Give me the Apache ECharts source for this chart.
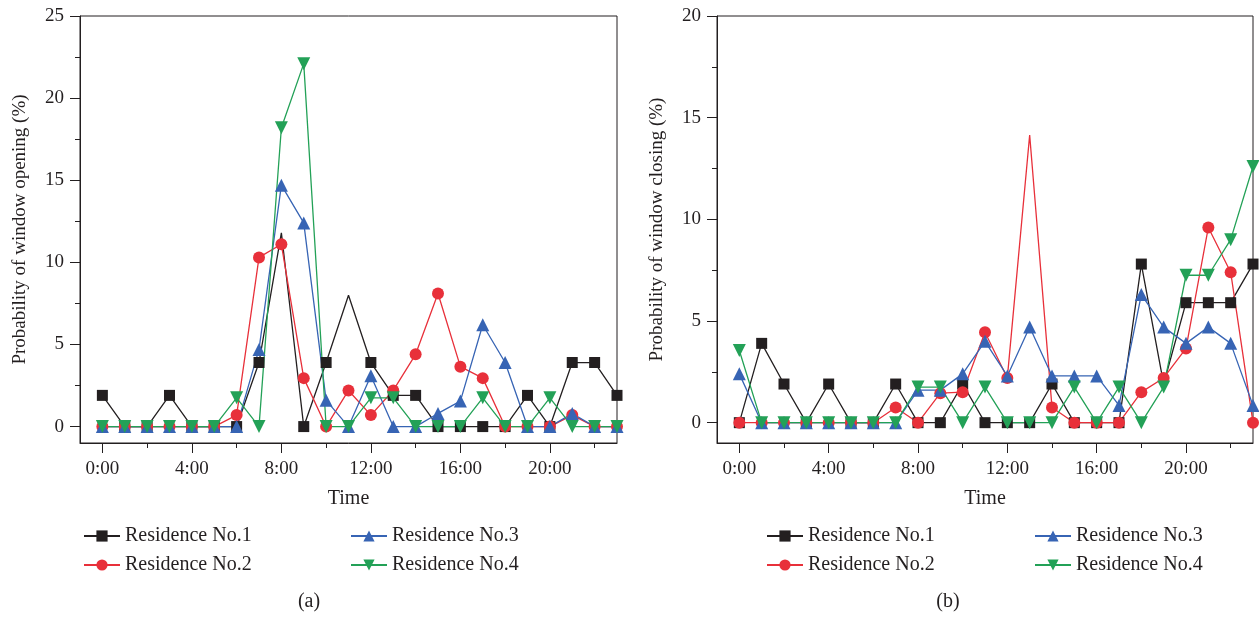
<!DOCTYPE html>
<html>
<head>
<meta charset="utf-8">
<script src="https://cdn.jsdelivr.net/npm/echarts@6/dist/echarts.min.js"></script>
<style>
  html, body { margin: 0; padding: 0; background: #fff; }
  #chart { width: 1259px; height: 618px; }
</style>
</head>
<body>
<div id="chart"></div>
<script>
// Hour of day for every sample
const hours = [0,1,2,3,4,5,6,7,8,9,10,11,12,13,14,15,16,17,18,19,20,21,22,23];
const hourLabels = [0,4,8,12,16,20];
const hourMinor = [2,6,10,14,18,22];

// (a) probability of window opening (%)
const openR1 = [1.9,0,0,1.9,0,0,0,3.9,11.8,0,3.9,8.0,3.9,1.9,1.9,0,0,0,0,1.9,0,3.9,3.9,1.9];
const openR2 = [0,0,0,0,0,0,0.7,10.3,11.1,2.95,0,2.2,0.7,2.2,4.4,8.1,3.65,2.95,0,0,0,0.7,0,0];
const openR3 = [0,0,0,0,0,0,0,4.7,14.7,12.4,1.6,0,3.1,0,0,0.8,1.55,6.2,3.9,0,0,0.8,0,0];
const openR4 = [0,0,0,0,0,0,1.75,0,18.2,22.1,0,0,1.75,1.75,0,0,0,1.75,0,0,1.75,0,0,0];
const openTicks = [0,5,10,15,20,25];
const openMinor = [2.5,7.5,12.5,17.5,22.5];
// hours whose marker is left off (line vertex only)
const openBare = [[8, 11], [], [], []];

// (b) probability of window closing (%)
const closeR1 = [0,3.9,1.9,0,1.9,0,0,1.9,0,0,1.9,0,0,0,1.9,0,0,0,7.8,1.9,5.9,5.9,5.9,7.8];
const closeR2 = [0,0,0,0,0,0,0,0.75,0,1.45,1.5,4.45,2.2,14.15,0.75,0,0,0,1.5,2.2,3.65,9.6,7.4,0];
const closeR3 = [2.4,0,0,0,0,0,0,0,1.6,1.6,2.4,4.0,2.3,4.7,2.3,2.3,2.3,0.85,6.3,4.7,3.9,4.7,3.9,0.85];
const closeR4 = [3.55,0,0,0,0,0,0,0,1.75,1.75,0,1.75,0,0,0,1.75,0,1.75,0,1.75,7.25,7.25,9.0,12.6];
const closeTicks = [0,5,10,15,20];
const closeMinor = [2.5,7.5,12.5,17.5];
const closeBare = [[19], [13], [], []];

const names = ['Residence No.1','Residence No.2','Residence No.3','Residence No.4'];
const colors = ['#231f20','#e8303a','#3764b4','#23a157'];
const symbols = ['rect','circle','triangle','path://M0,0 L10,0 L5,9 Z'];
const symbolSizes = [11,12,13,13];

const FONT = 'Liberation Serif';
const INK = '#231f20';

function points(vals, bare) {
  return hours.map((h, i) => bare.includes(h)
    ? { value: [h, vals[i]], symbol: 'none' }
    : [h, vals[i]]);
}

function mainX(gridIndex) {
  return {
    gridIndex, type: 'value', min: -1, max: 23, position: 'bottom',
    name: 'Time', nameLocation: 'middle', nameGap: 46,
    nameTextStyle: { fontFamily: FONT, fontSize: 20, color: INK },
    axisLine: { show: true, onZero: false, lineStyle: { color: INK, width: 1 } },
    axisTick: { show: true, inside: false, length: 10, customValues: hourLabels, lineStyle: { color: INK } },
    axisLabel: { customValues: hourLabels, margin: 17, formatter: v => v + ':00',
                 fontFamily: FONT, fontSize: 19, color: INK },
    splitLine: { show: false }
  };
}
function minorX(gridIndex) {
  return {
    gridIndex, type: 'value', min: -1, max: 23, position: 'bottom',
    axisLine: { show: false, onZero: false },
    axisTick: { show: true, length: 5, customValues: hourMinor, lineStyle: { color: INK } },
    axisLabel: { show: false }, splitLine: { show: false }
  };
}
function mainY(gridIndex, max, ticks, title) {
  return {
    gridIndex, type: 'value', min: -1, max, position: 'left',
    name: title, nameLocation: 'middle', nameGap: 50, nameRotate: 90,
    nameTextStyle: { fontFamily: FONT, fontSize: 19, color: INK },
    axisLine: { show: true, onZero: false, lineStyle: { color: INK, width: 1 } },
    axisTick: { show: true, inside: false, length: 10, customValues: ticks, lineStyle: { color: INK } },
    axisLabel: { customValues: ticks, margin: 16, fontFamily: FONT, fontSize: 19, color: INK },
    splitLine: { show: false }
  };
}
function minorY(gridIndex, max, ticks) {
  return {
    gridIndex, type: 'value', min: -1, max, position: 'left',
    axisLine: { show: false, onZero: false },
    axisTick: { show: true, length: 5, customValues: ticks, lineStyle: { color: INK } },
    axisLabel: { show: false }, splitLine: { show: false }
  };
}

function seriesFor(gridIdx, sets, bare) {
  return sets.map((vals, k) => ({
    name: names[k], type: 'line',
    xAxisIndex: gridIdx * 2, yAxisIndex: gridIdx * 2,
    data: points(vals, bare[k]),
    symbol: symbols[k], symbolSize: symbolSizes[k],
    lineStyle: { color: colors[k], width: 1.3 },
    itemStyle: { color: colors[k] },
    emphasis: { disabled: true },
    animation: false
  }));
}

function legendCol(left, items) {
  return {
    data: items, left, top: 521, orient: 'vertical', itemGap: 9,
    itemWidth: 36, itemHeight: 14,
    textStyle: { fontFamily: FONT, fontSize: 20, color: INK },
    selectedMode: false
  };
}

const chart = echarts.init(document.getElementById('chart'), null, { renderer: 'canvas' });
chart.setOption({
  backgroundColor: '#ffffff',
  animation: false,
  grid: [
    { left: 80, top: 16, width: 537, height: 427, show: true, borderColor: INK, borderWidth: 1, backgroundColor: 'transparent' },
    { left: 717, top: 16, width: 536, height: 427, show: true, borderColor: INK, borderWidth: 1, backgroundColor: 'transparent' }
  ],
  xAxis: [mainX(0), minorX(0), mainX(1), minorX(1)],
  yAxis: [
    mainY(0, 25, openTicks, 'Probability of window opening (%)'),
    minorY(0, 25, openMinor),
    mainY(1, 20, closeTicks, 'Probability of window closing (%)'),
    minorY(1, 20, closeMinor)
  ],
  legend: [
    legendCol(78, [names[0], names[1]]),
    legendCol(345, [names[2], names[3]]),
    legendCol(761, [names[0], names[1]]),
    legendCol(1029, [names[2], names[3]])
  ],
  graphic: [
    { type: 'text', x: 309, y: 602, style: { text: '(a)', align: 'center', verticalAlign: 'middle', font: '20px "Liberation Serif"', fill: INK } },
    { type: 'text', x: 948, y: 602, style: { text: '(b)', align: 'center', verticalAlign: 'middle', font: '20px "Liberation Serif"', fill: INK } }
  ],
  series: [
    ...seriesFor(0, [openR1, openR2, openR3, openR4], openBare),
    ...seriesFor(1, [closeR1, closeR2, closeR3, closeR4], closeBare)
  ]
});
</script>
</body>
</html>
